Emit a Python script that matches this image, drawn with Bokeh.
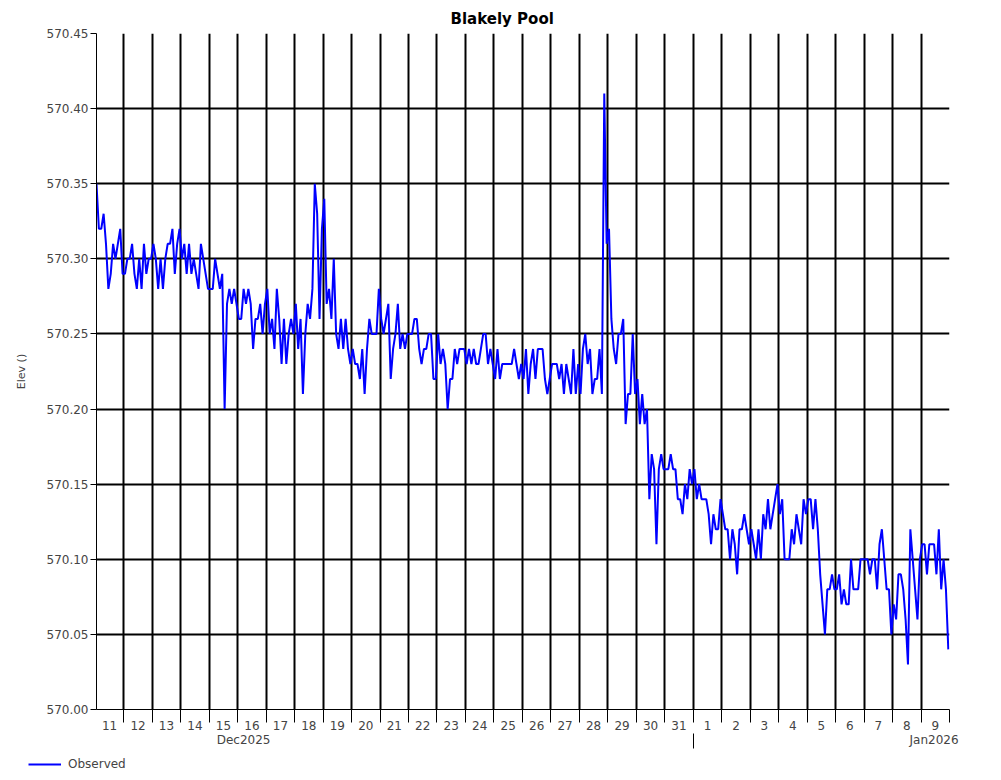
import pandas as pd
from bokeh.plotting import figure
from bokeh.layouts import column
from bokeh.models import (FixedTicker, LinearAxis, Range1d, Legend, LegendItem,
                          Grid, PrintfTickFormatter, ColumnDataSource)
from bokeh.embed import file_html
from bokeh.resources import INLINE

TITLE = "Blakely Pool"
Y_LABEL = "Elev ()"
SERIES_NAME = "Observed"
START = "2025-12-11 01:00"
END = "2026-01-10 00:00"
STEP = "2h"
ELEV_BASE = 570.0

# Observed elevation, hundredths above 570.00, 2-hourly readings (01:00 .. 23:00) per day
d1211 = [35, 32, 32, 33, 31, 28, 29, 31, 30, 31, 32, 29]
d1212 = [29, 30, 30, 31, 29, 28, 30, 28, 31, 29, 30, 30]
d1213 = [31, 30, 28, 30, 28, 30, 31, 31, 32, 29, 31, 32]
d1214 = [30, 31, 29, 31, 29, 30, 29, 28, 31, 30, 29, 28]
d1215 = [28, 28, 30, 29, 28, 29, 20, 27, 28, 27, 28, 27]
d1216 = [26, 26, 28, 27, 28, 27, 24, 26, 26, 27, 25, 27]
d1217 = [28, 25, 26, 24, 28, 26, 23, 26, 23, 25, 26, 25]
d1218 = [27, 24, 26, 21, 25, 27, 26, 28, 35, 33, 26, 32]
d1219 = [34, 27, 28, 26, 30, 25, 24, 26, 24, 26, 24, 23]
d1220 = [24, 23, 23, 22, 24, 21, 24, 26, 25, 25, 25, 28]
d1221 = [26, 25, 26, 27, 22, 24, 25, 27, 24, 25, 24, 25]
d1222 = [25, 25, 26, 26, 24, 23, 24, 24, 25, 25, 22, 22]
d1223 = [25, 23, 24, 23, 20, 22, 22, 24, 23, 24, 24, 24]
d1224 = [23, 24, 23, 24, 23, 23, 24, 25, 25, 23, 24, 23]
d1225 = [22, 24, 22, 23, 23, 23, 23, 23, 24, 23, 22, 23]
d1226 = [22, 24, 21, 23, 24, 22, 24, 24, 24, 22, 21, 22]
d1227 = [23, 23, 23, 22, 23, 21, 23, 22, 21, 24, 21, 23]
d1228 = [21, 24, 25, 23, 24, 21, 22, 22, 24, 21, 41, 31]
d1229 = [32, 26, 24, 23, 25, 25, 26, 19, 21, 21, 25, 21]
d1230 = [22, 19, 21, 19, 20, 14, 17, 16, 11, 16, 17, 16]
d1231 = [16, 16, 17, 16, 16, 14, 14, 13, 15, 14, 16, 15]
d0101 = [16, 14, 15, 14, 14, 14, 13, 11, 13, 12, 12, 14]
d0102 = [13, 12, 12, 10, 12, 11, 9, 12, 12, 13, 12, 11]
d0103 = [12, 11, 10, 12, 10, 13, 12, 14, 12, 13, 14, 15]
d0104 = [13, 14, 10, 10, 10, 12, 11, 13, 12, 11, 14, 13]
d0105 = [14, 14, 12, 14, 12, 9, 7, 5, 8, 8, 9, 8]
d0106 = [8, 9, 7, 8, 7, 7, 10, 8, 8, 8, 10, 10]
d0107 = [10, 10, 9, 10, 10, 8, 11, 12, 10, 8, 8, 5]
d0108 = [7, 6, 9, 9, 8, 6, 3, 12, 10, 8, 6, 10]
d0109 = [11, 11, 9, 11, 11, 11, 9, 12, 8, 10, 8, 4]

days = [d1211, d1212, d1213, d1214, d1215, d1216, d1217, d1218, d1219, d1220,
        d1221, d1222, d1223, d1224, d1225, d1226, d1227, d1228, d1229, d1230,
        d1231, d0101, d0102, d0103, d0104, d0105, d0106, d0107, d0108, d0109]

day_labels = ["11", "12", "13", "14", "15", "16", "17", "18", "19", "20", "21", "22",
              "23", "24", "25", "26", "27", "28", "29", "30", "31",
              "1", "2", "3", "4", "5", "6", "7", "8", "9"]
day_dates = pd.date_range("2025-12-11", periods=len(day_labels), freq="D")

month_labels = ["Dec2025", "Jan2026"]
month_label_at = [pd.Timestamp("2025-12-16 05:00"), pd.Timestamp("2026-01-09 11:00")]
month_break = [pd.Timestamp("2026-01-01 00:00")]

y_ticks = [570.00, 570.05, 570.10, 570.15, 570.20, 570.25, 570.30, 570.35, 570.40, 570.45]

hundredths = [v for d in days for v in d]
elev = [ELEV_BASE + v / 100.0 for v in hundredths]
times = pd.date_range(START, periods=len(elev), freq=STEP)


def ms(t):
    return float(pd.Timestamp(t).value // 10**6)


FONT = "DejaVu Sans"
LINE_COLOR = "#0000FF"

p = figure(width=1001, height=752, output_backend="svg", toolbar_location=None,
           x_axis_type=None, y_axis_type=None,
           x_range=Range1d(ms(START), ms(END)), y_range=Range1d(570.0, 570.45),
           min_border_left=96, min_border_right=52, min_border_top=33, min_border_bottom=43)
p.outline_line_color = None
p.background_fill_color = "white"
p.border_fill_color = "white"
p.frame_align = False

p.title.text = TITLE
p.title.align = "left"
p.title.offset = 354
p.title.standoff = 8
p.title.vertical_align = "top"
p.title.text_font = FONT
p.title.text_font_size = "15px"
p.title.text_font_style = "bold"
p.title.text_color = "black"

# grids
day_bounds = [ms(d + pd.Timedelta(days=1)) for d in day_dates]
day_centers = [ms(d + pd.Timedelta(hours=12)) for d in day_dates]
p.add_layout(Grid(dimension=0, ticker=FixedTicker(ticks=day_bounds),
                  grid_line_color="black", grid_line_width=2))
p.add_layout(Grid(dimension=1, ticker=FixedTicker(ticks=y_ticks),
                  grid_line_color="black", grid_line_width=2))

# y axis
yaxis = LinearAxis(ticker=FixedTicker(ticks=y_ticks),
                   formatter=PrintfTickFormatter(format="%.2f"),
                   axis_label=Y_LABEL, axis_label_text_font=FONT,
                   axis_label_text_font_size="11px", axis_label_text_font_style="normal",
                   axis_label_standoff=16,
                   major_label_text_font=FONT, major_label_text_font_size="12px",
                   major_label_standoff=2, major_tick_out=6, major_tick_in=0,
                   minor_tick_out=0, minor_tick_in=0,
                   axis_line_color="black", major_tick_line_color="black")
p.add_layout(yaxis, "left")

# day axis: labels centred in each day, ticks on day boundaries
xaxis = LinearAxis(ticker=FixedTicker(ticks=day_centers, minor_ticks=day_bounds),
                   major_label_overrides={c: l for c, l in zip(day_centers, day_labels)},
                   major_label_text_font=FONT, major_label_text_font_size="12px",
                   major_label_standoff=-2, major_tick_out=0, major_tick_in=0,
                   minor_tick_out=13, minor_tick_in=0, minor_tick_line_color="black",
                   axis_line_color="black")
p.add_layout(xaxis, "below")

# month axis
m_ticks = [ms(t) for t in month_label_at]
maxis = LinearAxis(ticker=FixedTicker(ticks=m_ticks, minor_ticks=[ms(t) for t in month_break]),
                   major_label_overrides={c: l for c, l in zip(m_ticks, month_labels)},
                   major_label_text_font=FONT, major_label_text_font_size="12px",
                   major_label_standoff=-16, major_tick_out=0, major_tick_in=0,
                   minor_tick_out=16, minor_tick_in=-1, minor_tick_line_color="black",
                   axis_line_color=None)
p.add_layout(maxis, "below")

src = ColumnDataSource(dict(t=times, elev=elev))
r = p.line("t", "elev", source=src, line_color=LINE_COLOR, line_width=2)

# legend strip below the chart
leg = figure(width=1001, height=28, output_backend="svg", toolbar_location=None,
             x_axis_type=None, y_axis_type=None, x_range=Range1d(0, 1), y_range=Range1d(0, 1),
             min_border=0)
leg.frame_align = False
leg.outline_line_color = None
leg.xgrid.visible = False
leg.ygrid.visible = False
leg_r = leg.line(x=[float("nan")], y=[float("nan")], line_color=LINE_COLOR, line_width=2)
legend = Legend(items=[LegendItem(label=SERIES_NAME, renderers=[leg_r])],
                location=(28, 9), orientation="horizontal",
                glyph_width=33, glyph_height=14, label_standoff=7,
                label_text_font=FONT, label_text_font_size="12px",
                padding=0, margin=0, spacing=0,
                border_line_color=None, background_fill_alpha=0)
leg.add_layout(legend)

page = column(p, leg, spacing=0)
open("out.html", "w").write(file_html(page, INLINE))
